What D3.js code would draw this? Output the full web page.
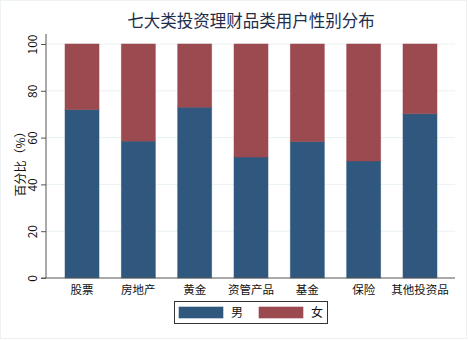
<!DOCTYPE html>
<html><head><meta charset="utf-8">
<script src="https://cdn.jsdelivr.net/npm/d3@7"></script>
<style>body{margin:0;background:#fff}svg{display:block}text{font-family:"Noto Sans CJK SC","DejaVu Sans",sans-serif}</style>
</head><body><svg id="c" width="468" height="340"></svg>
<script>
const categories = ["股票","房地产","黄金","资管产品","基金","保险","其他投资品"];
const male = [72, 58.5, 73, 51.7, 58.3, 50, 70.2];
const female = male.map(v => 100 - v);
const yTicks = [0,20,40,60,80,100];
const seriesNames = ["男","女"];
const colors = ["#30587e","#9b4a50"];

const svg = d3.select("#c");
svg.append("rect").attr("x",0.5).attr("y",0.5).attr("width",466).attr("height",338)
  .attr("fill","#fff").attr("stroke","#edf2f4");

const x = d3.scaleBand().domain(categories).range([65,437]).paddingInner(0.396).paddingOuter(0);
const y = d3.scaleLinear().domain([0,100]).range([278,44]);

// gridlines
svg.append("g").selectAll("line").data(yTicks.filter(d=>d>0)).join("line")
  .attr("x1",46).attr("x2",455).attr("y1",d=>y(d)).attr("y2",d=>y(d))
  .attr("stroke","#eaf2f3").attr("stroke-width",1);

// stacked bars
const data = categories.map((c,i)=>({c, m: male[i], f: female[i]}));
const stack = d3.stack().keys(["m","f"])(data);
stack.forEach((s,si)=>{
  svg.append("g").selectAll("rect").data(s).join("rect")
    .attr("x",d=>x(d.data.c)).attr("width",x.bandwidth())
    .attr("y",d=>y(d[1])).attr("height",d=>y(d[0])-y(d[1]))
    .attr("fill",colors[si]).attr("stroke",colors[si]).attr("stroke-opacity",0.6).attr("stroke-width",0.8);
});

// y axis
const ya = svg.append("g").attr("transform","translate(46,0)")
  .call(d3.axisLeft(y).tickValues(yTicks).tickSize(5).tickPadding(3));
ya.select(".domain").attr("d","M0,34V278").attr("stroke","#555");
ya.selectAll(".tick line").attr("stroke","#555");
ya.selectAll(".tick text").attr("font-size",12).attr("fill","#111")
  .attr("font-family","'Liberation Sans',Arial,sans-serif")
  .attr("transform","rotate(-90)").attr("text-anchor","middle")
  .attr("x",0).attr("y",-9).attr("dy","0");

// x axis
const xa = svg.append("g").attr("transform","translate(0,278)")
  .call(d3.axisBottom(x).tickSize(0).tickPadding(6));
xa.select(".domain").attr("d","M41,0H455").attr("stroke","#555");
xa.selectAll(".tick text").attr("font-size",11.5).attr("fill","#111").attr("dy","0.85em");

// y title
svg.append("text").attr("transform","translate(21,161) rotate(-90)")
  .attr("text-anchor","middle").attr("dy","0.35em").attr("font-size",12).attr("fill","#111")
  .text("百分比（%）");

// title
svg.append("text").attr("x",251).attr("y",27).attr("text-anchor","middle")
  .attr("font-size",16.5).attr("fill","#1e2d4a").text("七大类投资理财品类用户性别分布");

// legend
const lg = svg.append("g");
lg.append("rect").attr("x",174.5).attr("y",301.5).attr("width",153).attr("height",22)
  .attr("fill","#fff").attr("stroke","#333").attr("stroke-width",1);
seriesNames.forEach((n,i)=>{
  const ox = 179 + i*80;
  lg.append("rect").attr("x",ox).attr("y",307).attr("width",44).attr("height",11)
    .attr("fill",colors[i]).attr("stroke",colors[i]).attr("stroke-opacity",0.6);
  lg.append("text").attr("x",ox+52).attr("y",313).attr("dy","0.35em")
    .attr("font-size",12).attr("fill","#111").text(n);
});
</script></body></html>
